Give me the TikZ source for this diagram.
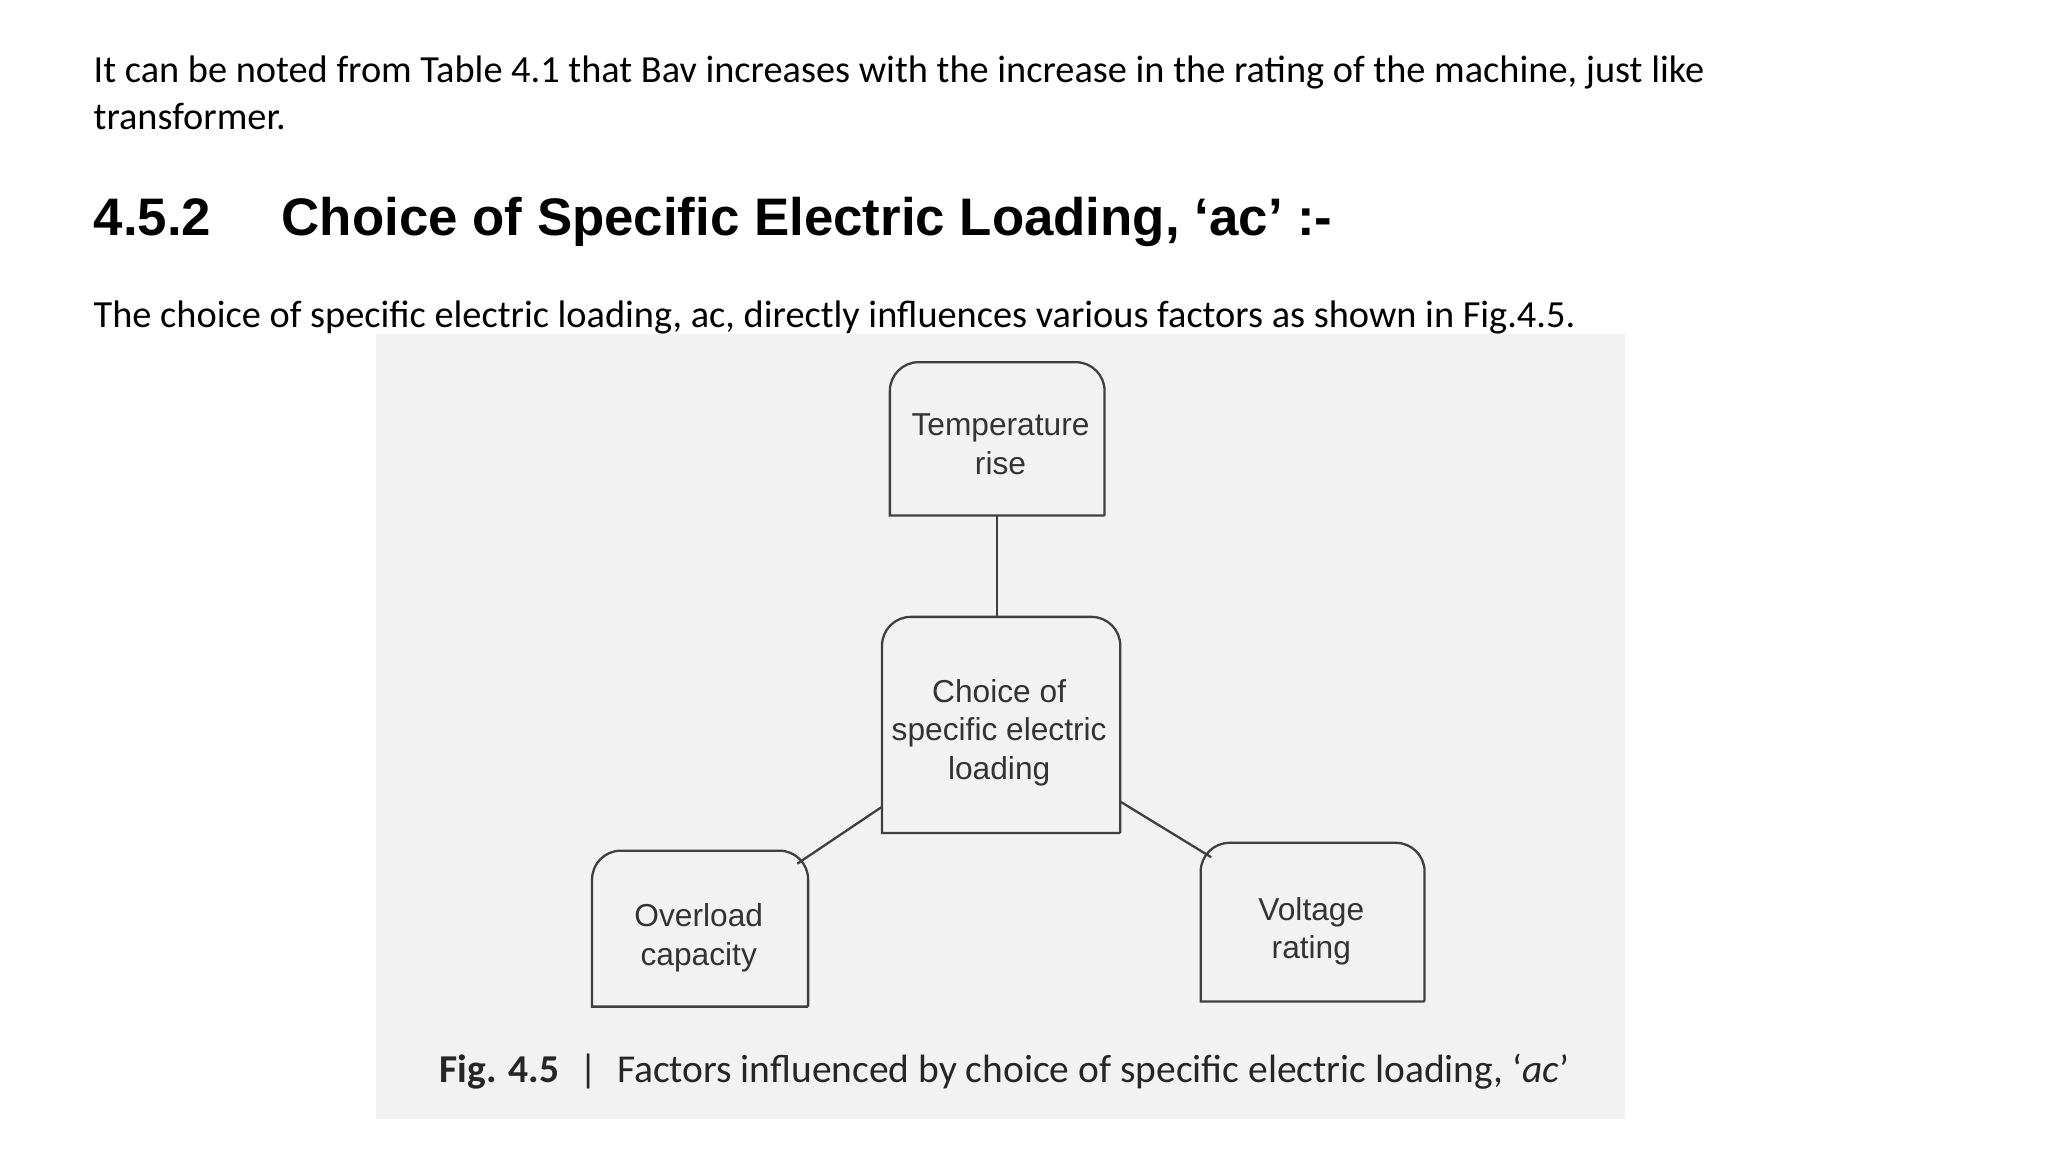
\documentclass[tikz,border=0pt]{standalone}
\usepackage{fontspec}
\setmainfont{Carlito}
\newfontfamily\arial{Liberation Sans}
\begin{document}
\begin{tikzpicture}[x=0.01cm,y=-0.01cm,
  fbox/.style={inner sep=0pt},
  ftxt/.style={font=\arial\fontsize{6.9pt}{8.4pt}\selectfont, align=center, text=black!80, inner sep=0pt},
  body/.style={anchor=base west, inner sep=0pt, font=\fontsize{8.35pt}{10pt}\selectfont},
  head/.style={anchor=base west, inner sep=0pt, font=\arial\bfseries\fontsize{11.5pt}{13pt}\selectfont},
  outl/.style={draw=black!75, line width=0.5pt},
  conn/.style={draw=black!75, line width=0.5pt}]
\useasboundingbox (0,0) rectangle (1568,882);
\fill[white] (0,0) rectangle (1568,882);
\node[body] (l1) at (71,63) {It can be noted from Table 4.1 that Bav increases with the increase in the rating of the machine, just like};
\node[body] (l2) at (71,99) {transformer.};
\node[head] (h1) at (71,180) {4.5.2};
\node[head] (h2) at (215,180) {Choice of Specific Electric Loading, ‘ac’ :-};
\node[body] (l3) at (71,251) {The choice of specific electric loading, ac, directly influences various factors as shown in Fig.4.5.};
\fill[black!5] (288,256) rectangle (1244,857);
% boxes
\node[fbox, minimum width=163*0.01cm, minimum height=116*0.01cm] (tr) at (763.5,336) {};
\node[fbox, minimum width=181*0.01cm, minimum height=164*0.01cm] (ch) at (766.5,555) {};
\node[fbox, minimum width=164*0.01cm, minimum height=118*0.01cm] (ov) at (536,711) {};
\node[fbox, minimum width=170*0.01cm, minimum height=120*0.01cm] (vr) at (1005,706) {};
\node[ftxt] (trt) at (766,340) {Temperature\\rise};
\node[ftxt] (cht) at (765,561) {Choice of\\specific electric\\loading};
\node[ftxt] (ovt) at (535,718) {Overload\\capacity};
\node[ftxt] (vrt) at (1004,713) {Voltage\\rating};
\foreach \n in {tr,ch,ov,vr}{
  \draw[outl] (\n.south east) -- (\n.south west) [rounded corners=0.22cm] -- (\n.north west) -- (\n.north east) [sharp corners] -- (\n.south east);
}
\draw[conn] (tr.south) -- (ch.north -| tr.south);
\draw[conn] ([yshift=0.2cm]ch.south west) -- ([xshift=1.57cm,yshift=-0.1cm]ov.north west);
\draw[conn] ([yshift=0.24cm]ch.south east) -- ([xshift=0.08cm,yshift=-0.11cm]vr.north west);
\node[anchor=base west, inner sep=0pt, font=\fontsize{8.6pt}{10pt}\selectfont, text=black!85] (cap) at (336,829) {\textbf{Fig. 4.5}\enspace|\enspace Factors influenced by choice of specific electric loading, ‘\textit{ac}’};
\end{tikzpicture}
\end{document}
